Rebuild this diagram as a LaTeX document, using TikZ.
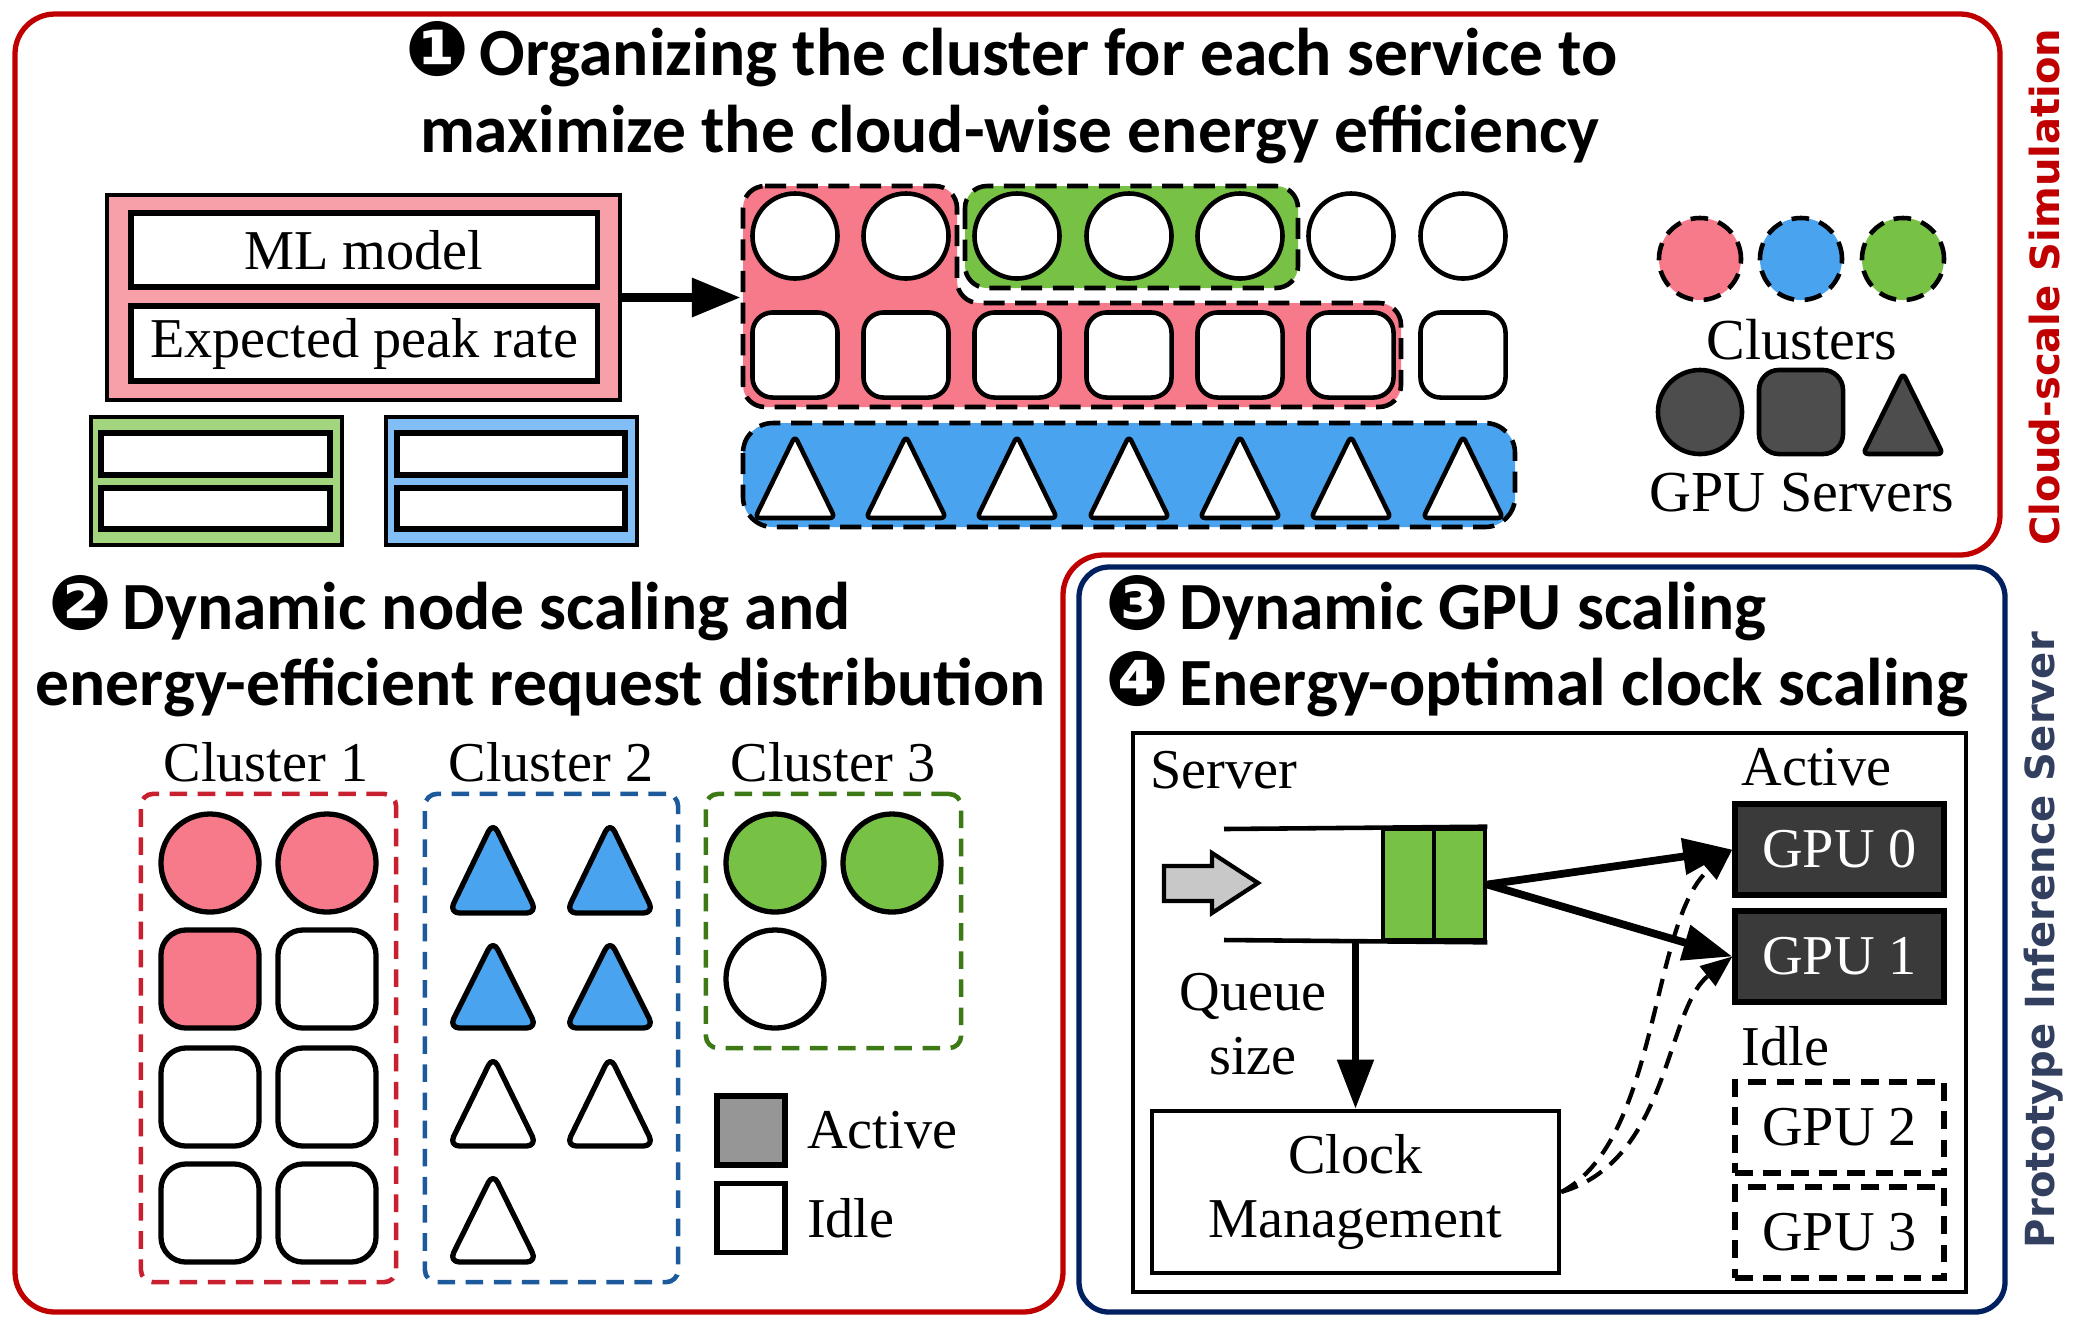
\documentclass[tikz,border=0pt]{standalone}
\usepackage{fontspec}
\setmainfont{Liberation Serif}
\newfontfamily\headfont{Carlito}
\newfontfamily\dingfont{DejaVu Sans}
\newfontfamily\sidefont{DejaVu Sans}
\usepackage{xcolor}
\usetikzlibrary{arrows.meta,positioning}
\definecolor{cred}{RGB}{192, 0, 0}
\definecolor{cnavy}{RGB}{0, 32, 96}
\definecolor{cslate}{RGB}{51, 63, 95}
\definecolor{cpink}{RGB}{247, 122, 138}
\definecolor{lpink}{RGB}{247, 160, 170}
\definecolor{cblue}{RGB}{74, 163, 238}
\definecolor{lblue}{RGB}{128, 190, 245}
\definecolor{cgreen}{RGB}{119, 193, 69}
\definecolor{lgreen}{RGB}{162, 213, 126}
\definecolor{dgray}{RGB}{77, 77, 77}
\definecolor{ggray}{RGB}{58, 58, 58}
\definecolor{agray}{RGB}{150, 150, 150}
\definecolor{lgray}{RGB}{200, 200, 200}
\definecolor{redline}{RGB}{200, 32, 46}
\definecolor{blueline}{RGB}{28, 90, 156}
\definecolor{greenline}{RGB}{61, 122, 22}
\newcommand{\stepno}[1]{{\dingfont\fontsize{21.5}{22}\selectfont #1}\kern-1.5pt\relax}

\begin{document}
\begin{tikzpicture}[x=0.01cm, y=-0.01cm,
  every node/.style={font=\fontsize{16}{18}\selectfont},
  headtext/.style={font=\headfont\bfseries\fontsize{19.2}{22}\selectfont, anchor=base west, inner sep=0pt},
  sidetext/.style={font=\sidefont\bfseries\fontsize{11.4}{13}\selectfont, rotate=90, inner sep=0pt},
  svcbox/.style={rectangle, draw, line width=1.2pt, inner sep=0pt},
  fieldbox/.style={rectangle, draw, fill=white, line width=1.5pt, inner sep=0pt},
  region/.style={draw, line width=1.3pt, dash pattern=on 6pt off 3pt, rounded corners=0.22cm},
  srvcirc/.style={circle, draw, fill=white, line width=1.3pt, minimum size=0.85cm, inner sep=0pt},
  srvsq/.style={rectangle, draw, fill=white, line width=1.3pt, rounded corners=0.2cm, minimum size=0.85cm, inner sep=0pt},
  srvtri/.style={draw, fill=white, line width=1.3pt, rounded corners=1.5pt, line join=round},
  legcirc/.style={circle, draw, line width=1.3pt, dash pattern=on 5pt off 3pt, minimum size=0.82cm, inner sep=0pt},
  nodecirc/.style={circle, draw, fill=white, line width=1.5pt, minimum size=0.98cm, inner sep=0pt},
  nodesq/.style={rectangle, draw, fill=white, line width=1.5pt, rounded corners=0.25cm, minimum size=0.98cm, inner sep=0pt},
  nodetri/.style={draw, fill=white, line width=1.5pt, rounded corners=3pt, line join=round},
  clubox/.style={rectangle, draw, line width=1.3pt, dash pattern=on 5pt off 3pt, rounded corners=0.12cm, inner sep=0pt},
  legsq/.style={rectangle, draw, line width=1.5pt, minimum width=0.68cm, minimum height=0.69cm, inner sep=0pt},
  gpubox/.style={rectangle, draw, line width=1.5pt, minimum width=2.09cm, minimum height=0.91cm},
  bigarrow/.style={line width=2.2pt, -{Triangle[length=14pt,width=10pt]}},
  dasharrow/.style={line width=1.2pt, dash pattern=on 5pt off 3pt, -{Triangle[length=9pt,width=7pt]}}]
\useasboundingbox (0,0) rectangle (2078,1329);

% frames
\draw[cred, line width=1.5pt, rounded corners=0.4cm] (15,14) -- (2000,14) -- (2000,555) -- (1063,555) -- (1063,1312) -- (15,1312) -- cycle;
\draw[cnavy, line width=1.5pt, rounded corners=0.3cm] (1079,567) rectangle (2005,1312);
\node[sidetext, text=cred] (simlabel) at (2045,287) {Cloud-scale Simulation};
\node[sidetext, text=cslate] (protolabel) at (2044,940) {Prototype Inference Server};

% titles
\node[headtext, anchor=base] (title1a) at (1012,75) {\stepno{❶} Organizing the cluster for each service to};
\node[headtext, anchor=base] (title1b) at (1010,152) {maximize the cloud-wise energy efficiency};
\node[headtext] (title2a) at (48,629) {\stepno{❷} Dynamic node scaling and};
\node[headtext] (title2b) at (35,705) {energy-efficient request distribution};
\node[headtext] (title3) at (1105,629) {\stepno{❸} Dynamic GPU scaling};
\node[headtext] (title4) at (1105,705) {\stepno{❹} Energy-optimal clock scaling};

% services
\node[svcbox, fill=lpink, minimum width=5.13cm, minimum height=2.05cm] (mlbox) at (363.5,297.5) {};
\node[fieldbox, minimum width=4.66cm, minimum height=0.74cm] (mlmodel) at (364,250) {ML model};
\node[fieldbox, minimum width=4.66cm, minimum height=0.75cm] (peakrate) at (364,343.5) {Expected peak rate};
\node[svcbox, fill=lgreen, minimum width=2.51cm, minimum height=1.28cm] (svcgreen) at (216.5,481) {};
\node[fieldbox, minimum width=2.29cm, minimum height=0.42cm] (greenf1) at (215.5,454) {};
\node[fieldbox, minimum width=2.29cm, minimum height=0.41cm] (greenf2) at (215.5,508.5) {};
\node[svcbox, fill=lblue, minimum width=2.51cm, minimum height=1.28cm] (svcblue) at (511.5,481) {};
\node[fieldbox, minimum width=2.28cm, minimum height=0.42cm] (bluef1) at (511,454) {};
\node[fieldbox, minimum width=2.28cm, minimum height=0.41cm] (bluef2) at (511,508.5) {};

% server pool
\draw[region, fill=cpink] (743,186) -- (957,186) -- (957,303) -- (1401,303) -- (1401,407) -- (743,407) -- cycle;
\draw[region, fill=cgreen] (965,186) rectangle (1298,288);
\draw[region, fill=cblue, rounded corners=0.3cm] (743,423) rectangle (1515,527);
\foreach \i/\x in {1/795,2/906,3/1017,4/1129,5/1240,6/1351,7/1463} {
  \node[srvcirc] (c\i) at (\x,236) {};
  \node[srvsq] (s\i) at (\x,355) {};
  \draw[srvtri] ({\x-40},518) -- (\x,436) -- ({\x+40},518) -- cycle;
}
\coordinate (poolin) at (741,297.5);
\draw[line width=2.8pt, -{Triangle[length=14pt,width=10.5pt]}] (mlbox.east) -- (poolin);

% legend
\node[legcirc, fill=cpink] (legpink) at (1700,259) {};
\node[legcirc, fill=cblue] (legblue) at (1801,259) {};
\node[legcirc, fill=cgreen] (leggreen) at (1903,259) {};
\node[anchor=base, font=\fontsize{16.5}{18}\selectfont] (legclusters) at (1802,359) {Clusters};
\node[srvcirc, fill=dgray, minimum size=0.84cm] (leground) at (1700,412) {};
\node[srvsq, fill=dgray, minimum size=0.84cm] (legsquare) at (1801,412) {};
\draw[srvtri, fill=dgray] (1863,454) -- (1903,373) -- (1943,454) -- cycle;
\node[anchor=base, font=\fontsize{16.5}{18}\selectfont] (legservers) at (1802,511) {GPU Servers};

% clusters
\node[anchor=base] (clu1) at (266,781) {Cluster 1};
\node[anchor=base] (clu2) at (551,781) {Cluster 2};
\node[anchor=base] (clu3) at (833,781) {Cluster 3};
\node[clubox, draw=redline, minimum width=2.55cm, minimum height=4.88cm] (box1) at (268.5,1038) {};
\node[clubox, draw=blueline, minimum width=2.53cm, minimum height=4.88cm] (box2) at (551.5,1038) {};
\node[clubox, draw=greenline, minimum width=2.55cm, minimum height=2.54cm] (box3) at (833.5,921) {};
\node[nodecirc, fill=cpink] (n11) at (210,863) {};
\node[nodecirc, fill=cpink] (n12) at (327,863) {};
\node[nodesq, fill=cpink] (n21) at (210,979) {};
\node[nodesq] (n22) at (327,979) {};
\foreach \x in {210,327}
  \foreach \y in {1097,1213}
    \node[nodesq] at (\x,\y) {};
\foreach \x/\t/\b/\c in {493/822/913/cblue,610/822/913/cblue,493/940/1028/cblue,610/940/1028/cblue,493/1056/1146/white,610/1056/1146/white,493/1173/1262/white}
  \draw[nodetri, fill=\c] ({\x-44},\b) -- (\x,\t) -- ({\x+44},\b) -- cycle;
\node[nodecirc, fill=cgreen] (g11) at (775,863) {};
\node[nodecirc, fill=cgreen] (g12) at (892,863) {};
\node[nodecirc] (g21) at (775,979) {};
\node[legsq, fill=agray] (legact) at (751,1130.5) {};
\node[legsq, fill=white] (legidle) at (751,1218) {};
\node[right=2pt of legact] (legacttext) {Active};
\node[right=2pt of legidle] (legidletext) {Idle};

% prototype server
\node[draw, line width=1.2pt, minimum width=8.33cm, minimum height=5.59cm] (srvbox) at (1549.5,1012.5) {};
\node[anchor=base west, inner sep=0pt] (srvlabel) at (1150,788) {Server};
\node[anchor=base west, inner sep=0pt] (actlabel) at (1741,785) {Active};
\node[anchor=base west, inner sep=0pt] (idlelabel) at (1741,1065) {Idle};
\node[gpubox, fill=ggray, text=white] (gpu0) at (1839.5,849.5) {GPU 0};
\node[gpubox, fill=ggray, text=white] (gpu1) at (1839.5,956.5) {GPU 1};
\node[gpubox, dash pattern=on 5pt off 3pt] (gpu2) at (1839.5,1127.5) {GPU 2};
\node[gpubox, dash pattern=on 5pt off 3pt] (gpu3) at (1839.5,1232.5) {GPU 3};
\draw[fill=lgray, line width=1.2pt] (1164,866) -- (1212,866) -- (1212,853) -- (1258,883) -- (1212,913) -- (1212,901) -- (1164,901) -- cycle;
\node[draw, fill=cgreen, line width=1.3pt, minimum width=0.51cm, minimum height=1.11cm, inner sep=0pt] (qa) at (1408.5,884.5) {};
\node[draw, fill=cgreen, line width=1.3pt, minimum width=0.51cm, minimum height=1.11cm, inner sep=0pt] (qb) at (1459.5,884.5) {};
\coordinate (qtop) at (1224,829);
\coordinate (qbot) at (1224,940);
\draw[line width=1.3pt] (qtop) -- (qb.north east);
\draw[line width=1.3pt] (qbot) -- (qb.south east);
\node[draw, line width=1.2pt, minimum width=4.07cm, minimum height=1.62cm, align=center] (clockmgmt) at (1355.5,1192) {Clock\\Management};
\node[align=center] (qsize) at (1253,1024) {Queue\\size};
\coordinate (qtap) at (1355.5,940);
\draw[bigarrow] (qtap) -- (clockmgmt.north);
\draw[bigarrow] (qb.east) -- (gpu0.west);
\draw[bigarrow] (qb.east) -- (gpu1.west);
\draw[dasharrow] (clockmgmt.east) .. controls (1660,1140) and (1650,920) .. (gpu0.west);
\draw[dasharrow] (clockmgmt.east) .. controls (1670,1160) and (1665,1010) .. (gpu1.west);
\end{tikzpicture}
\end{document}
